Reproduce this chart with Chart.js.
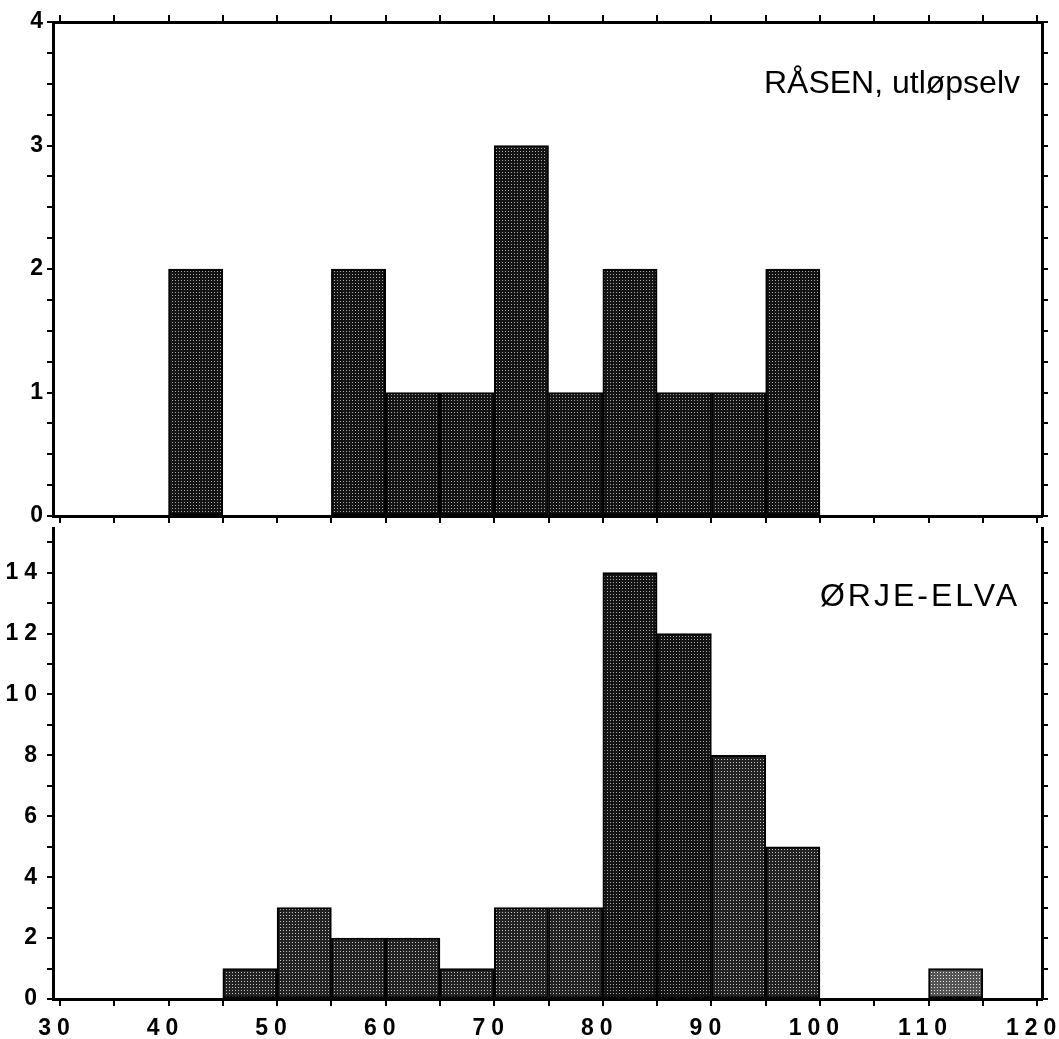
<!DOCTYPE html>
<html>
<head>
<meta charset="utf-8">
<script src="https://cdn.jsdelivr.net/npm/chart.js@4"></script>
<style>
  html, body { margin: 0; padding: 0; background: #fff; }
  #wrap { width: 1059px; height: 1039px; }
  .box { position: relative; width: 1059px; }
</style>
</head>
<body>
<div id="wrap">
  <div class="box" style="height:527px"><canvas id="top"></canvas></div>
  <div class="box" style="height:512px"><canvas id="bottom"></canvas></div>
</div>
<script>
// histogram bins are 5 units wide, listed by their left edge
const binWidth = 5;
const raasenBins = [40, 55, 60, 65, 70, 75, 80, 85, 90, 95];
const raasenCounts = [2, 2, 1, 1, 3, 1, 2, 1, 1, 2];
const orjeBins = [45, 50, 55, 60, 65, 70, 75, 80, 85, 90, 95, 110];
const orjeCounts = [1, 3, 2, 2, 1, 3, 3, 14, 12, 8, 5, 1];
const xLabels = [30, 40, 50, 60, 70, 80, 90, 100, 110, 120];
const raasenYLabels = [0, 1, 2, 3, 4];
const orjeYLabels = [0, 2, 4, 6, 8, 10, 12, 14];
const raasenTitle = 'RÅSEN, utløpselv';
const orjeTitle = 'ØRJE-ELVA';

// stippled fill like the old print
function makePattern(base, dot) {
  const c = document.createElement('canvas');
  c.width = 3; c.height = 3;
  const g = c.getContext('2d');
  g.fillStyle = base;
  g.fillRect(0, 0, 3, 3);
  g.fillStyle = dot;
  g.fillRect(1, 1, 1, 1);
  return g.createPattern(c, 'repeat');
}
const dark = makePattern('#141414', '#a8a8a8');
const mid = makePattern('#222222', '#c4c4c4');
const pale = makePattern('#555555', '#e8e8e8');

const toPoints = (bins, counts) => bins.map((b, i) => ({ x: b + binWidth / 2, y: counts[i] }));

const family = '"Liberation Sans", Arial, sans-serif';
const tickFont = { family, size: 23, weight: 'bold' };

function noPad(scale) {
  scale.paddingTop = 0; scale.paddingBottom = 0;
  scale.paddingLeft = 0; scale.paddingRight = 0;
}

function xScale(position, showLabels, height) {
  return {
    type: 'linear', axis: 'x', position, offset: false,
    min: 29.36, max: 120.45,
    ticks: {
      display: showLabels, stepSize: 5, includeBounds: false, autoSkip: false,
      maxRotation: 0, padding: 9, labelOffset: -3, color: '#000', font: tickFont,
      callback: v => (xLabels.includes(v) ? String(v) : '')
    },
    grid: { drawOnChartArea: false, offset: false, color: '#000', lineWidth: 2, tickLength: 7 },
    border: { color: '#000', width: 3 },
    afterFit: s => { s.height = height; noPad(s); }
  };
}

function yScale(position, max, step, labels, width) {
  return {
    type: 'linear', axis: 'y', position,
    min: 0, max,
    ticks: {
      display: position === 'left', stepSize: step, includeBounds: false,
      autoSkip: false, padding: 4, color: '#000', font: tickFont,
      callback: v => (labels.includes(v) ? String(v) : '')
    },
    grid: { drawOnChartArea: false, color: '#000', lineWidth: 2, tickLength: 6 },
    border: { color: '#000', width: 3 },
    afterFit: s => { s.width = width; noPad(s); }
  };
}

function titlePlugin(text, y, spacing, titleSpacing) {
  return {
    id: 'panelTitle',
    beforeDraw(chart) { chart.ctx.letterSpacing = spacing; },
    afterDraw(chart) {
      const ctx = chart.ctx;
      ctx.save();
      ctx.letterSpacing = titleSpacing;
      ctx.font = '32px ' + family;
      ctx.fillStyle = '#000';
      ctx.textAlign = 'right';
      ctx.textBaseline = 'middle';
      ctx.fillText(text, chart.chartArea.right - 22, y);
      ctx.restore();
    }
  };
}

const barStyle = {
  borderColor: '#000',
  borderWidth: 2,
  borderSkipped: false,
  barPercentage: 1,
  categoryPercentage: 1
};

new Chart(document.getElementById('top'), {
  type: 'bar',
  data: {
    datasets: [{
      data: toPoints(raasenBins, raasenCounts),
      backgroundColor: raasenBins.map(() => dark),
      xAxisID: 'x', yAxisID: 'y',
      ...barStyle
    }]
  },
  options: {
    responsive: true, maintainAspectRatio: false, animation: false,
    layout: { padding: 0 },
    plugins: { legend: { display: false }, tooltip: { enabled: false } },
    scales: {
      x: xScale('bottom', false, 11),
      x2: xScale('top', false, 22),
      y: yScale('left', 4, 0.25, raasenYLabels, 53),
      y2: yScale('right', 4, 0.25, raasenYLabels, 17)
    }
  },
  plugins: [titlePlugin(raasenTitle, 84, '0px', '0px')]
});

const orjeFill = orjeBins.map(b => (b >= 110 ? pale : b >= 80 && b < 90 ? dark : mid));

new Chart(document.getElementById('bottom'), {
  type: 'bar',
  data: {
    datasets: [{
      data: toPoints(orjeBins, orjeCounts),
      backgroundColor: orjeFill,
      xAxisID: 'x', yAxisID: 'y',
      ...barStyle
    }]
  },
  options: {
    responsive: true, maintainAspectRatio: false, animation: false,
    layout: { padding: 0 },
    plugins: { legend: { display: false }, tooltip: { enabled: false } },
    scales: {
      x: xScale('bottom', true, 40),
      y: yScale('left', 15.5, 1, orjeYLabels, 53),
      y2: yScale('right', 15.5, 1, orjeYLabels, 17)
    }
  },
  plugins: [titlePlugin(orjeTitle, 70, '6px', '3px')]
});
</script>
</body>
</html>
